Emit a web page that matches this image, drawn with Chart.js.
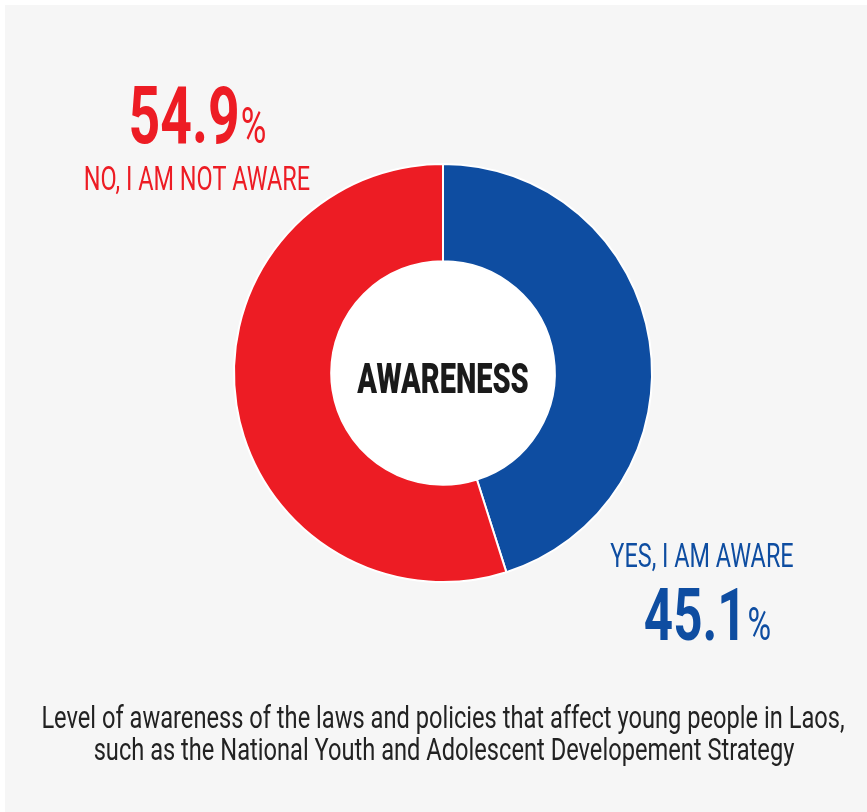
<!DOCTYPE html>
<html>
<head>
<meta charset="utf-8">
<script src="https://cdn.jsdelivr.net/npm/chart.js@4.4.0/dist/chart.umd.min.js"></script>
<style>
  html, body { margin: 0; padding: 0; background: #ffffff; }
  #wrap { position: absolute; left: 0; top: 0; width: 867px; height: 812px; }
</style>
</head>
<body>
<div id="wrap"><canvas id="c" width="867" height="812"></canvas></div>
<script>
const categories = ['YES, I AM AWARE', 'NO, I AM NOT AWARE'];
const values = [45.1, 54.9];
const sliceColors = ['#0E4DA1', '#ED1C24'];
const centerLabel = 'AWARENESS';
const captionLines = [
  'Level of awareness of the laws and policies that affect young people in Laos,',
  'such as the National Youth and Adolescent Developement Strategy'
];

const FONT = 'Roboto, "Liberation Sans", sans-serif';

function drawScaled(ctx, text, x, y, font, color, sx, align) {
  ctx.save();
  ctx.font = font;
  ctx.fillStyle = color;
  ctx.textBaseline = 'alphabetic';
  const w = ctx.measureText(text).width * sx;
  let left = x;
  if (align === 'center') left = x - w / 2;
  else if (align === 'right') left = x - w;
  ctx.translate(left, y);
  ctx.scale(sx, 1);
  ctx.textAlign = 'left';
  ctx.fillText(text, 0, 0);
  ctx.restore();
  return w;
}

function drawPercent(ctx, value, cx, y, bigSize, pctSize, color, sx) {
  const num = value.toFixed(1);
  ctx.save();
  ctx.font = `bold ${bigSize}px ${FONT}`;
  const w1 = ctx.measureText(num).width * sx;
  ctx.font = `${pctSize}px ${FONT}`;
  const w2 = ctx.measureText('%').width * sx;
  ctx.restore();
  const left = cx - (w1 + w2) / 2;
  drawScaled(ctx, num, left, y, `bold ${bigSize}px ${FONT}`, color, sx, 'left');
  drawScaled(ctx, '%', left + w1 + 1, y, `${pctSize}px ${FONT}`, color, sx, 'left');
}

const decor = {
  id: 'decor',
  beforeDraw(chart) {
    const ctx = chart.ctx;
    ctx.save();
    ctx.fillStyle = '#ffffff';
    ctx.fillRect(0, 0, chart.width, chart.height);
    ctx.fillStyle = '#F6F6F6';
    ctx.fillRect(5, 5, chart.width - 5, chart.height - 5);
    ctx.restore();
  },
  beforeDatasetsDraw(chart) {
    const arc = chart.getDatasetMeta(0).data[0];
    if (!arc) return;
    const ctx = chart.ctx;
    ctx.save();
    ctx.fillStyle = '#ffffff';
    ctx.beginPath();
    ctx.arc(arc.x, arc.y, arc.innerRadius + 1, 0, Math.PI * 2);
    ctx.fill();
    ctx.restore();
  },
  afterDraw(chart) {
    const ctx = chart.ctx;
    const arc = chart.getDatasetMeta(0).data[0];
    // center label
    drawScaled(ctx, centerLabel, arc.x, 393, `900 42px ${FONT}`, '#1a1a1a', 0.69, 'center');
    // red (NO) label, top-left
    drawPercent(ctx, values[1], 197, 143, 79, 50, sliceColors[1], 0.7);
    drawScaled(ctx, categories[1], 197, 190, `34px ${FONT}`, sliceColors[1], 0.69, 'center');
    // blue (YES) label, bottom-right
    drawScaled(ctx, categories[0], 702, 567, `33px ${FONT}`, sliceColors[0], 0.71, 'center');
    drawPercent(ctx, values[0], 707, 640, 73, 46, sliceColors[0], 0.7);
    // caption
    drawScaled(ctx, captionLines[0], 443, 728, `31px ${FONT}`, '#222222', 0.763, 'center');
    drawScaled(ctx, captionLines[1], 444, 760, `31px ${FONT}`, '#222222', 0.763, 'center');
  }
};

new Chart(document.getElementById('c'), {
  type: 'doughnut',
  data: {
    labels: categories,
    datasets: [{
      data: values,
      backgroundColor: sliceColors,
      borderColor: '#ffffff',
      borderWidth: 2,
      hoverOffset: 0
    }]
  },
  options: {
    responsive: false,
    animation: false,
    cutout: '53.5%',
    rotation: 0,
    layout: { padding: { left: 233, right: 214, top: 162, bottom: 228 } },
    plugins: {
      legend: { display: false },
      tooltip: { enabled: false },
      title: { display: false }
    }
  },
  plugins: [decor]
});
</script>
</body>
</html>
